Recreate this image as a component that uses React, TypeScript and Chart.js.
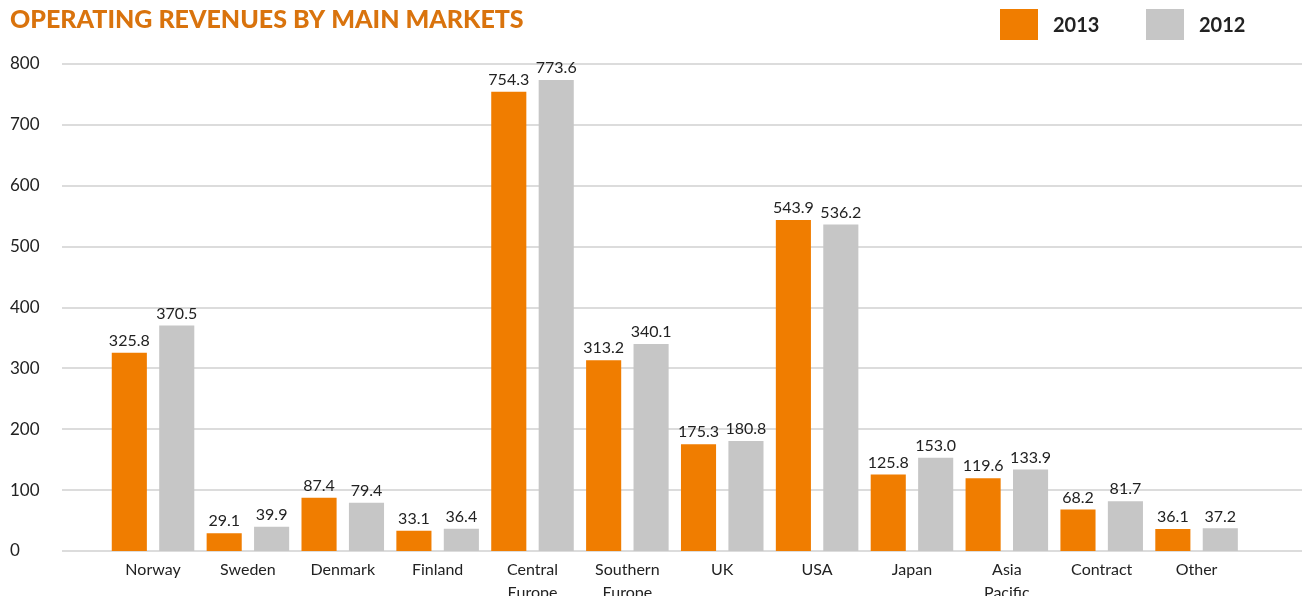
import React, { useEffect, useRef } from "react";
import { Chart, registerables } from "chart.js";

Chart.register(...registerables);

const categories: (string | string[])[] = [
  "Norway",
  "Sweden",
  "Denmark",
  "Finland",
  ["Central", "Europe"],
  ["Southern", "Europe"],
  "UK",
  "USA",
  "Japan",
  ["Asia", "Pacific"],
  "Contract",
  "Other",
];
const values2013 = [325.8, 29.1, 87.4, 33.1, 754.3, 313.2, 175.3, 543.9, 125.8, 119.6, 68.2, 36.1];
const values2012 = [370.5, 39.9, 79.4, 36.4, 773.6, 340.1, 180.8, 536.2, 153.0, 133.9, 81.7, 37.2];
const seriesLabels = ["2013", "2012"];
const seriesColors = ["#F07D00", "#C6C6C6"];
const yTicks = [0, 100, 200, 300, 400, 500, 600, 700, 800];
const title = "OPERATING REVENUES BY MAIN MARKETS";

const FONT = "Lato, 'Noto Sans', sans-serif";

const overlay = {
  id: "overlay",
  beforeDatasetsDraw(chart: any) {
    const ctx = chart.ctx;
    const y = chart.scales.y;
    ctx.save();
    ctx.strokeStyle = "#DCDCDC";
    ctx.lineWidth = 2;
    for (const v of yTicks) {
      const py = Math.round(y.getPixelForValue(v));
      ctx.beginPath();
      ctx.moveTo(62, py);
      ctx.lineTo(chart.width - 2, py);
      ctx.stroke();
    }
    ctx.restore();
  },
  afterDatasetsDraw(chart: any) {
    const ctx = chart.ctx;
    ctx.save();
    ctx.font = `16px ${FONT}`;
    ctx.fillStyle = "#222";
    ctx.textAlign = "center";
    ctx.textBaseline = "bottom";
    chart.data.datasets.forEach((ds: any, i: number) => {
      const meta = chart.getDatasetMeta(i);
      meta.data.forEach((bar: any, j: number) => {
        ctx.fillText(Number(ds.data[j]).toFixed(1), bar.x, bar.y - 4);
      });
    });
    ctx.restore();
  },
  afterDraw(chart: any) {
    const ctx = chart.ctx;
    ctx.save();
    ctx.font = `900 25px ${FONT}`;
    ctx.fillStyle = "#D9730D";
    ctx.textAlign = "left";
    ctx.textBaseline = "alphabetic";
    ctx.fillText(title, 10, 28);
    const xs = [1000, 1146];
    chart.data.datasets.forEach((ds: any, i: number) => {
      ctx.fillStyle = ds.backgroundColor;
      ctx.fillRect(xs[i], 9, 38, 31);
      ctx.fillStyle = "#222";
      ctx.font = `bold 20px ${FONT}`;
      ctx.textBaseline = "middle";
      ctx.fillText(ds.label, xs[i] + 53, 26);
    });
    ctx.restore();
  },
};

export default function App() {
  const ref = useRef<HTMLCanvasElement | null>(null);
  useEffect(() => {
    if (!ref.current) return;
    const chart = new Chart(ref.current, {
      type: "bar",
      data: {
        labels: categories,
        datasets: [
          { label: seriesLabels[0], data: values2013, backgroundColor: seriesColors[0], categoryPercentage: 1.0, barPercentage: 0.74 },
          { label: seriesLabels[1], data: values2012, backgroundColor: seriesColors[1], categoryPercentage: 1.0, barPercentage: 0.74 },
        ],
      },
      options: {
        animation: false,
        responsive: true,
        maintainAspectRatio: false,
        layout: { padding: { top: 64, left: 10, right: 60, bottom: 0 } },
        plugins: {
          legend: { display: false },
          title: { display: false },
          tooltip: { enabled: false },
        },
        scales: {
          x: {
            grid: { display: false },
            border: { display: false },
            ticks: { color: "#222", font: { family: FONT, size: 16, lineHeight: 1.4 }, padding: 0, maxRotation: 0, autoSkip: false },
            afterFit: (s: any) => { s.height = 45; },
          },
          y: {
            min: 0,
            max: 800,
            grid: { display: false },
            border: { display: false },
            afterFit: (s: any) => { s.width = 95.6; },
            afterBuildTicks: (s: any) => { s.ticks = yTicks.map((v) => ({ value: v })); },
            ticks: { color: "#222", font: { family: FONT, size: 17 }, crossAlign: "far", padding: 0 },
          },
        },
      },
      plugins: [overlay],
    });
    return () => chart.destroy();
  }, []);
  return (
    <div style={{ position: "absolute", left: 0, top: 0, width: 1304, height: 596, background: "#fff" }}>
      <canvas ref={ref} />
    </div>
  );
}
